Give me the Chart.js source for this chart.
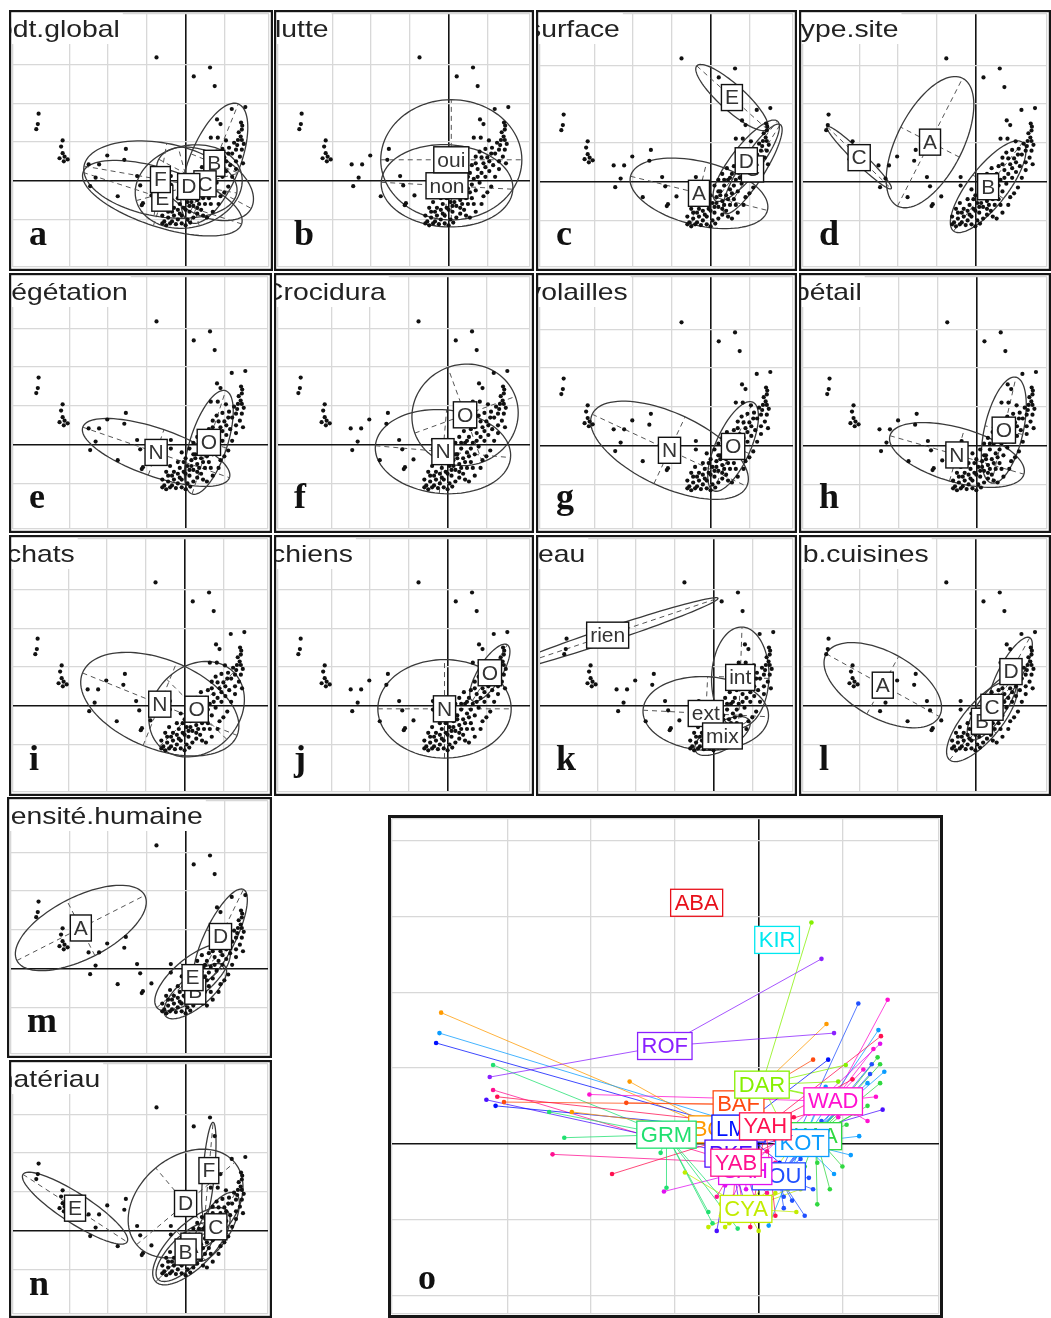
<!DOCTYPE html>
<html><head><meta charset="utf-8">
<script src="https://cdn.jsdelivr.net/npm/chart.js@4.4.1/dist/chart.umd.min.js"></script>
<style>
html,body{margin:0;padding:0;background:#fff;}
body{position:relative;width:1051px;height:1318px;overflow:hidden;}
canvas{position:absolute;display:block;}
</style>
</head><body>
<script>
// ---------- individuals (factorial scores, axis 1 / axis 2) ----------
const pointX = [
 -0.75,0.21,0.63,0.75,1.54,1.19,-3.79,-3.81,-3.85,-3.17,-3.21,-3.17,-3.25,-3.04,-3.12,-3.14,
 -2.50,-2.23,-2.02,-1.54,-1.58,-2.32,-2.46,-1.75,-1.25,-1.17,-0.88,-1.13,-1.10,-0.38,-0.38,
 0.81,0.90,1.43,1.46,1.37,1.42,1.45,1.04,0.83,0.65,1.25,1.33,1.50,1.45,1.40,1.48,1.30,1.12,0.95,0.80,
 0.70,1.00,1.15,0.90,0.60,0.75,1.05,0.95,0.55,0.45,0.65,0.80,1.10,0.35,0.50,0.70,0.25,0.40,0.60,0.90,
 0.15,0.30,0.50,0.05,0.20,0.40,0.70,-0.05,0.10,0.30,-0.20,-0.10,0.05,0.20,-0.30,-0.45,-0.20,-0.35,
 -0.55,-0.60,-0.50,-0.40,-0.25,-0.10,0.00,0.12,-0.15,-0.30,0.00,-0.10,0.10,0.20,0.30,0.42,-0.20,-0.40,
 -0.45,-0.60,0.55,0.85,1.20,1.30,0.25,0.35,0.45,0.55,0.15,0.00,-0.15,0.10,0.30,0.60,0.75,0.85,0.95,
 1.05,1.20,1.30,0.65,0.45,-0.35,-0.50,0.50,0.85,1.10,1.00,0.35,-0.05,0.20,0.70,1.35,1.45
];
const pointY = [
 3.18,2.69,2.92,2.44,1.90,1.85,1.73,1.46,1.33,1.04,0.88,0.71,0.58,0.55,0.62,0.50,
 0.42,0.42,0.65,0.82,0.54,0.08,-0.14,-0.40,0.12,-0.12,-0.38,-0.63,-0.58,0.12,-0.10,
 1.58,1.46,1.50,1.42,1.25,1.14,1.32,1.04,1.11,1.11,0.98,0.92,0.95,0.80,0.62,0.45,0.50,0.85,0.82,0.75,
 0.62,0.60,0.40,0.45,0.40,0.30,0.25,0.10,0.20,0.05,0.05,-0.05,-0.15,-0.10,-0.20,-0.25,-0.25,-0.35,-0.45,-0.40,
 -0.40,-0.50,-0.60,-0.55,-0.65,-0.75,-0.80,-0.70,-0.80,-0.85,-0.75,-0.90,-1.00,-0.95,-0.90,-0.95,-1.00,-1.05,
 -1.05,-1.10,-1.15,-1.10,-1.12,-1.10,-1.15,-1.08,-0.60,-0.70,-0.35,-0.20,-0.10,0.05,0.20,0.35,-0.45,-0.55,
 -0.80,-0.90,-0.95,-0.60,0.10,0.30,-0.35,-0.60,-0.45,-0.30,-0.55,-0.75,-0.85,-0.65,-0.70,-0.10,0.10,0.20,0.35,
 0.50,0.70,0.80,-0.60,-0.90,-0.80,-0.70,0.10,0.60,0.70,-0.30,0.05,-0.45,-0.25,0.45,1.05,1.05
];
// site (index into siteNames) of each individual
const pointSite = [
 0,7,4,12,14,10,2,8,9,5,12,15,11,1,16,9,
 5,2,14,2,1,5,15,16,5,5,3,13,5,9,11,
 2,12,8,16,14,6,13,4,9,1,14,10,8,6,14,11,6,16,4,8,
 4,14,6,8,16,10,6,8,15,3,10,6,8,16,10,6,9,3,10,8,
 13,10,3,15,3,10,6,13,3,10,15,3,3,16,5,3,11,3,
 5,3,11,3,5,16,3,8,13,15,13,11,15,16,4,16,15,13,
 3,5,10,6,8,14,10,3,10,6,13,3,11,15,10,8,6,8,14,
 6,14,8,10,3,13,15,16,4,14,6,9,11,15,8,10,6
];

// ---------- sites (panel o) ----------
const siteNames  = ['ABA','BAF','BOK','CYA','DAR','GRM','KAA','KIR','KOT','LMB','LOU','PKE','ROF','SAH','WAD','YAB','YAH'];
const siteX      = [-0.74,-0.24,-0.51,-0.15,0.04,-1.10,0.68,0.22,0.52,-0.24,0.24,-0.33,-1.12,-0.16,0.89,-0.27,0.08];
const siteY      = [3.18,0.52,0.19,-0.86,0.78,0.12,0.10,2.69,0.01,0.20,-0.43,-0.13,1.29,-0.36,0.56,-0.25,0.23];
const siteColors = ['#e8101a','#ff4a10','#ff9a00','#c2ec00','#86f000','#20e070','#30d840','#00e8f0','#0a9cff','#0010ff','#2050ff','#4a10ff','#8a20ff','#e010f0','#ff10d0','#ff1090','#ff1050'];

// ---------- class centres and ellipses per variable: [label, cx, cy, half-axis1, half-axis2, angle(deg)] ----------
const classesA = [['B',0.74,0.45,1.65,0.65,68],['C',0.50,-0.08,1.35,0.80,-28],['D',0.08,-0.15,1.40,1.05,15],['E',-0.60,-0.45,2.15,0.75,-18],['F',-0.65,0.03,2.00,0.95,-10]];
const classesB = [['non',-0.04,-0.13,1.70,1.06,-3],['oui',0.07,0.54,1.82,1.55,0]];
const classesC = [['A',-0.30,-0.30,1.82,0.82,-14],['C',1.08,0.33,1.35,0.32,58],['D',0.92,0.54,1.30,0.38,52],['E',0.55,2.17,1.22,0.33,-42]];
const classesD = [['A',-1.17,1.02,1.85,0.85,63],['B',0.33,-0.13,1.45,0.50,52],['C',-3.00,0.62,1.15,0.15,-44]];
const classesE = [['N',-0.76,-0.20,2.00,0.62,-19],['O',0.60,0.06,1.40,0.48,72]];
const classesF = [['N',-0.12,-0.18,1.75,1.08,-5],['O',0.45,0.77,1.38,1.30,20]];
const classesG = [['N',-1.06,-0.12,2.20,0.95,-25],['O',0.58,-0.02,1.25,0.45,66]];
const classesH = [['N',-0.50,-0.24,1.80,0.70,-16],['O',0.71,0.40,1.40,0.50,77]];
const classesI = [['N',-0.64,0.04,2.15,1.15,-22],['O',0.31,-0.09,1.35,1.10,45]];
const classesJ = [['N',-0.08,-0.08,1.72,1.27,0],['O',1.09,0.85,0.85,0.30,58]];
const classesK = [['ext',-0.20,-0.20,1.62,0.95,-3],['int',0.69,0.73,1.30,0.74,88],['mix',0.23,-0.78,0.80,0.35,30],['rien',-2.73,1.82,3.00,0.18,18.5]];
const classesL = [['A',-2.39,0.53,1.67,0.85,-29],['B',0.17,-0.40,1.30,0.48,50],['C',0.43,-0.04,1.00,0.35,55],['D',0.92,0.88,1.00,0.30,61]];
const classesM = [['A',-2.70,1.05,1.85,0.80,27],['B',0.25,-0.58,1.00,0.40,40],['D',0.90,0.83,1.35,0.40,64],['E',0.18,-0.23,1.20,0.50,40]];
const classesN = [['A',0.15,-0.40,1.30,0.55,45],['B',0.00,-0.55,1.00,0.40,45],['C',0.78,0.10,1.00,0.40,60],['D',0.00,0.70,1.65,1.20,40],['E',-2.85,0.58,1.60,0.38,-33],['F',0.60,1.55,1.25,0.15,85]];

const titles  = ['pdt.global','lutte','surface','type.site','végétation','Crocidura','volailles','bétail','chats','chiens','eau','nb.cuisines','densité.humaine','matériau'];
const letters = ['a','b','c','d','e','f','g','h','i','j','k','l','m','n'];

// ---------- layout (page geometry only) ----------
const panels = [
 {box:[9,10,264,261],  org:[187,182], tdx:-12, cls:classesA},
 {box:[274,10,260,261],org:[450,182], tdx:1,   cls:classesB},
 {box:[536,10,261,261],org:[712,183], tdx:-9,  cls:classesC},
 {box:[799,10,252,261],org:[977,183], tdx:-6,  cls:classesD},
 {box:[9,273,263,260], org:[187,446], tdx:-12, cls:classesE},
 {box:[274,273,260,260],org:[449,446],tdx:-11, cls:classesF},
 {box:[536,273,261,260],org:[712,447],tdx:-9,  cls:classesG},
 {box:[799,273,252,260],org:[978,447],tdx:-5,  cls:classesH},
 {box:[9,535,263,261], org:[186,707], tdx:-2,  cls:classesI},
 {box:[274,535,260,261],org:[449,707],tdx:-3,  cls:classesJ},
 {box:[536,535,261,261],org:[715,707],tdx:2,   cls:classesK},
 {box:[799,535,252,261],org:[977,707],tdx:-12, cls:classesL},
 {box:[7,797,265,261], org:[187,970], tdx:-12, cls:classesM},
 {box:[9,1060,263,258],org:[187,1232],tdx:-19, cls:classesN}
];
panels.forEach((p,i)=>{p.title=titles[i];p.letter=letters[i];});
panels.push({box:[388,815,555,503],org:[760,1145],sx:85,sy:77,letter:'o',star:true});

function drawEllipse(ctx,xs,ys,c){
  const cx=c[1],cy=c[2],a=c[3],b=c[4],t=c[5]*Math.PI/180,ct=Math.cos(t),st=Math.sin(t);
  const P=(u,v)=>[xs.getPixelForValue(cx+u*ct-v*st), ys.getPixelForValue(cy+u*st+v*ct)];
  ctx.strokeStyle='#3a3a3a';ctx.lineWidth=1.3;ctx.setLineDash([]);
  ctx.beginPath();
  for(let k=0;k<=96;k++){const f=k/96*2*Math.PI;const q=P(a*Math.cos(f),b*Math.sin(f));k?ctx.lineTo(q[0],q[1]):ctx.moveTo(q[0],q[1]);}
  ctx.closePath();ctx.stroke();
  ctx.setLineDash([5,4]);ctx.lineWidth=1;ctx.strokeStyle='#555';
  let q1=P(-a,0),q2=P(a,0);ctx.beginPath();ctx.moveTo(q1[0],q1[1]);ctx.lineTo(q2[0],q2[1]);ctx.stroke();
  q1=P(0,-b);q2=P(0,b);ctx.beginPath();ctx.moveTo(q1[0],q1[1]);ctx.lineTo(q2[0],q2[1]);ctx.stroke();
  ctx.setLineDash([]);
}

function deco(p){
  return {
    id:'deco',
    beforeDatasetsDraw(chart){
      const ctx=chart.ctx,xs=chart.scales.x,ys=chart.scales.y,a=chart.chartArea;
      ctx.save();ctx.beginPath();ctx.rect(a.left,a.top,a.right-a.left,a.bottom-a.top);ctx.clip();
      if(p.star){
        ctx.lineWidth=0.9;ctx.globalAlpha=0.85;
        pointX.forEach((vx,i)=>{const s=pointSite[i];
          ctx.strokeStyle=siteColors[s];ctx.beginPath();
          ctx.moveTo(xs.getPixelForValue(vx),ys.getPixelForValue(pointY[i]));
          ctx.lineTo(xs.getPixelForValue(siteX[s]),ys.getPixelForValue(siteY[s]));ctx.stroke();});
        ctx.globalAlpha=1;
      }
      if(p.cls) p.cls.forEach(c=>drawEllipse(ctx,xs,ys,c));
      ctx.restore();
    },
    afterDatasetsDraw(chart){
      const ctx=chart.ctx,xs=chart.scales.x,ys=chart.scales.y,W=chart.width,H=chart.height;
      ctx.save();
      ctx.textAlign='center';ctx.textBaseline='middle';
      if(p.cls){
        ctx.font='21px "Liberation Sans", Arial, sans-serif';
        p.cls.forEach(c=>{const px=xs.getPixelForValue(c[1]),py=ys.getPixelForValue(c[2]);
          const w=ctx.measureText(c[0]).width+7,h=26;
          ctx.fillStyle='#fff';ctx.fillRect(px-w/2,py-h/2,w,h);
          ctx.strokeStyle='#111';ctx.lineWidth=1.4;ctx.strokeRect(px-w/2,py-h/2,w,h);
          ctx.fillStyle='#333';ctx.fillText(c[0],px,py+1);});
      }
      if(p.star){
        ctx.font='22px "Liberation Sans", Arial, sans-serif';
        siteNames.forEach((n,s)=>{const px=xs.getPixelForValue(siteX[s]),py=ys.getPixelForValue(siteY[s]);
          const w=ctx.measureText(n).width+8,h=27;
          ctx.fillStyle='#fff';ctx.fillRect(px-w/2,py-h/2,w,h);
          ctx.strokeStyle=siteColors[s];ctx.lineWidth=1.3;ctx.strokeRect(px-w/2,py-h/2,w,h);
          ctx.fillStyle=siteColors[s];ctx.fillText(n,px,py+1);});
      }
      if(p.title){
        ctx.textAlign='left';ctx.textBaseline='alphabetic';
        ctx.font='24px "Liberation Sans", Arial, sans-serif';
        const tw=ctx.measureText(p.title).width*1.18;
        ctx.fillStyle='#fff';ctx.fillRect(0,0,p.tdx+tw+3,34);
        ctx.save();ctx.translate(p.tdx,27);ctx.scale(1.18,1);ctx.fillStyle='#222';ctx.fillText(p.title,0,0);ctx.restore();
      }
      ctx.textAlign='left';ctx.textBaseline='alphabetic';
      ctx.font='bold 36px "Liberation Serif", "Times New Roman", serif';ctx.fillStyle='#111';
      if(p.star) ctx.fillText(p.letter,30,474); else ctx.fillText(p.letter,20,235);
      ctx.strokeStyle='#161616';ctx.lineWidth=p.star?3:2.2;
      const o=p.star?1.5:1.1;ctx.strokeRect(o,o,W-2*o,H-2*o);
      ctx.restore();
    }
  };
}

function makeChart(p){
  const [bx,by,bw,bh]=p.box;
  const cv=document.createElement('canvas');
  cv.width=bw;cv.height=bh;
  cv.style.left=bx+'px';cv.style.top=by+'px';cv.style.width=bw+'px';cv.style.height=bh+'px';
  document.body.appendChild(cv);
  const sx=p.sx||40,sy=p.sy||40,ox=p.org[0]-bx,oy=p.org[1]-by;
  const gridOpt={drawTicks:false,
    color:c=>(c.tick&&Math.abs(c.tick.value)<1e-9)?'#141414':'#d8d8d8',
    lineWidth:c=>(c.tick&&Math.abs(c.tick.value)<1e-9)?1.6:1.3};
  const pts=pointX.map((v,i)=>({x:v,y:pointY[i]}));
  new Chart(cv,{
    type:'scatter',
    data:{datasets:[{data:pts,pointRadius:p.star?2.3:2.1,borderWidth:0,
      backgroundColor:p.star?pointSite.map(s=>siteColors[s]):'#111'}]},
    options:{responsive:false,animation:false,devicePixelRatio:1,
      layout:{padding:0},
      plugins:{legend:{display:false},tooltip:{enabled:false},title:{display:false}},
      scales:{
        x:{type:'linear',min:-ox/sx,max:(bw-ox)/sx,ticks:{display:false,stepSize:1},grid:gridOpt,border:{display:false}},
        y:{type:'linear',min:-(bh-oy)/sy,max:oy/sy,ticks:{display:false,stepSize:1},grid:gridOpt,border:{display:false}}
      }},
    plugins:[deco(p)]
  });
}
panels.forEach(makeChart);
</script>
</body></html>
